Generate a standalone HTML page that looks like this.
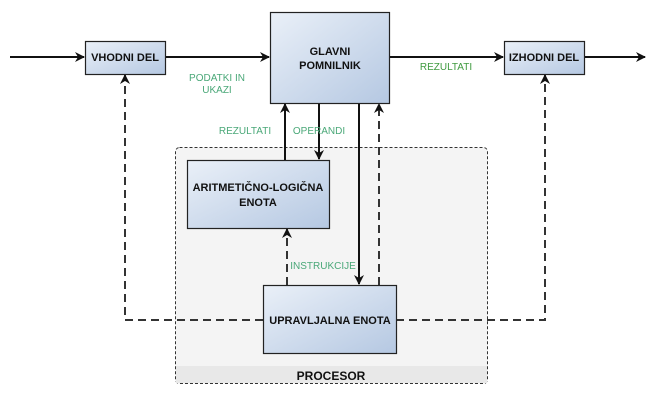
<!DOCTYPE html>
<html><head><meta charset="utf-8"><style>
body{margin:0;background:#fff}
svg{display:block}
text{font-family:"Liberation Sans",Arial,sans-serif}
.b{font-weight:bold;font-size:11px;fill:#111;text-anchor:middle}
.g{font-size:10px;fill:#4aa878;text-anchor:middle}
</style></head><body>
<svg width="649" height="405" viewBox="0 0 649 405" xmlns="http://www.w3.org/2000/svg">
<defs>
<linearGradient id="gr" x1="0" y1="0" x2="1" y2="1">
<stop offset="0" stop-color="#eaf0f8"/><stop offset="1" stop-color="#b5c8e2"/>
</linearGradient>
<marker id="a" markerWidth="10" markerHeight="10" refX="9" refY="5" orient="auto" markerUnits="userSpaceOnUse">
<path d="M0,0 L10,5 L0,10 L3,5 Z" fill="#111"/>
</marker>
</defs>
<rect x="175.5" y="147.5" width="312" height="236" rx="4" fill="#f4f4f4" stroke="#333" stroke-dasharray="3,2"/>
<rect x="176" y="366" width="311" height="17" fill="#e8e8e8"/>
<text x="331" y="380" class="b" style="font-size:12px">PROCESOR</text>

<g stroke="#111" stroke-width="2" fill="none">
<line x1="10" y1="57" x2="84" y2="57" marker-end="url(#a)"/>
<line x1="165" y1="57" x2="269" y2="57" marker-end="url(#a)"/>
<line x1="389" y1="57" x2="503" y2="57" marker-end="url(#a)"/>
<line x1="585" y1="57" x2="645" y2="57" marker-end="url(#a)"/>
<line x1="285" y1="160" x2="285" y2="104" marker-end="url(#a)"/>
<line x1="319" y1="103" x2="319" y2="159" marker-end="url(#a)"/>
<line x1="359" y1="103" x2="359" y2="284" marker-end="url(#a)"/>
</g>
<g stroke="#333" stroke-width="2" fill="none" stroke-dasharray="8,5">
<line x1="379" y1="285" x2="379" y2="104" marker-end="url(#a)"/>
<line x1="287" y1="285" x2="287" y2="229" marker-end="url(#a)"/>
<polyline points="263,320 125,320 125,75" marker-end="url(#a)"/>
<polyline points="396,320 545,320 545,75" marker-end="url(#a)"/>
</g>

<g stroke="#222" stroke-width="1.2" fill="url(#gr)">
<rect x="85.5" y="41.5" width="80" height="33"/>
<rect x="270.5" y="12.5" width="119" height="91"/>
<rect x="504.5" y="41.5" width="80" height="33"/>
<rect x="187.5" y="160.5" width="142" height="68"/>
<rect x="263.5" y="285.5" width="133" height="68"/>
</g>
<text x="125" y="61" class="b">VHODNI DEL</text>
<text x="330" y="55" class="b">GLAVNI</text>
<text x="330" y="69" class="b">POMNILNIK</text>
<text x="544" y="61" class="b">IZHODNI DEL</text>
<text x="258" y="191" class="b">ARITMETIČNO-LOGIČNA</text>
<text x="258" y="206" class="b">ENOTA</text>
<text x="330" y="324" class="b">UPRAVLJALNA ENOTA</text>

<text x="217" y="81" class="g">PODATKI IN</text>
<text x="217" y="93" class="g">UKAZI</text>
<text x="245" y="134" class="g">REZULTATI</text>
<text x="319" y="134" class="g">OPERANDI</text>
<text x="446" y="70" class="g" style="fill:#3f9a3f">REZULTATI</text>
<text x="323" y="269" class="g">INSTRUKCIJE</text>
</svg>
</body></html>
